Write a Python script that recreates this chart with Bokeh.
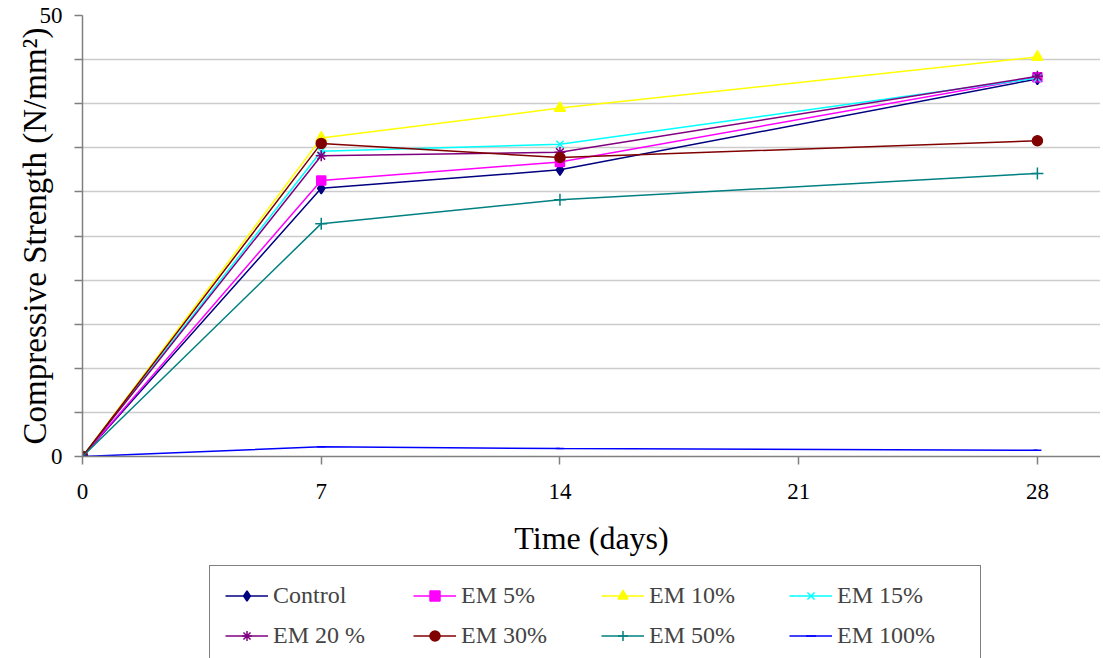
from bokeh.plotting import figure
from bokeh.models import Range1d, FixedTicker, Legend, LegendItem
from bokeh.layouts import column
from bokeh.embed import file_html
from bokeh.resources import INLINE

days = [0, 7, 14, 28]
control = [0, 30.4, 32.5, 42.8]
em5 = [0, 31.3, 33.4, 43.0]
em10 = [0, 36.1, 39.5, 45.3]
em15 = [0, 34.6, 35.4, 42.9]
em20 = [0, 34.1, 34.5, 43.1]
em30 = [0, 35.5, 33.9, 35.8]
em50 = [0, 26.4, 29.1, 32.1]
em100 = [0, 1.1, 0.9, 0.7]

series_names = ["Control", "EM 5%", "EM 10%", "EM 15%",
                "EM 20 %", "EM 30%", "EM 50%", "EM 100%"]
series_values = [control, em5, em10, em15, em20, em30, em50, em100]
series_colors = ["#000080", "#FF00FF", "#FFFF00", "#00FFFF",
                 "#800080", "#800000", "#008080", "#0000FF"]
series_markers = ["diamond", "square", "triangle", "x",
                  "asterisk", "circle", "cross", "dash"]
marker_sizes = [11, 9, 11, 10, 11, 10, 12, 8]

x_ticks = [0, 7, 14, 21, 28]
y_ticks = [0, 5, 10, 15, 20, 25, 30, 35, 40, 45, 50]
y_labels = {0: "0", 50: "50"}

FONT = "Liberation Serif"

p = figure(width=1100, height=565, output_backend="svg", toolbar_location=None,
           x_range=Range1d(0, 29.85), y_range=Range1d(0, 50),
           min_border_left=82, min_border_right=0, min_border_top=15,
           min_border_bottom=109)
p.outline_line_color = None
p.background_fill_color = "white"
p.border_fill_color = "white"

p.xgrid.grid_line_color = None
p.ygrid.grid_line_color = "#cccccc"
p.ygrid.grid_line_width = 1.5
p.ygrid.ticker = FixedTicker(ticks=y_ticks)

p.xaxis.ticker = FixedTicker(ticks=x_ticks)
p.yaxis.ticker = FixedTicker(ticks=y_ticks)
p.yaxis.major_label_overrides = {t: y_labels.get(t, "") for t in y_ticks}

for ax in (p.xaxis[0], p.yaxis[0]):
    ax.axis_line_color = "#808080"
    ax.axis_line_width = 1.5
    ax.major_tick_line_color = "#808080"
    ax.major_tick_line_width = 1.5
    ax.major_tick_out = 8
    ax.major_tick_in = 0
    ax.minor_tick_line_color = None
    ax.major_label_text_font = FONT
    ax.major_label_text_font_size = "23px"
    ax.major_label_text_color = "black"
    ax.axis_label_text_font = FONT
    ax.axis_label_text_font_style = "normal"
    ax.axis_label_text_color = "black"

p.xaxis.axis_label = "Time (days)"
p.xaxis.axis_label_text_font_size = "32px"
p.xaxis.major_label_standoff = 19
p.xaxis.axis_label_standoff = 18
p.yaxis.axis_label = "Compressive Strength (N/mm²)"
p.yaxis.axis_label_text_font_size = "33px"
p.yaxis.major_label_standoff = 12
p.yaxis.axis_label_standoff = -16

for vals, col, mk, ms in zip(series_values, series_colors, series_markers, marker_sizes):
    p.line(days, vals, line_color=col, line_width=1.5)
    p.scatter(days, vals, marker=mk, size=ms, line_color=col,
              fill_color=col, line_width=1.5)

# Legend panel: a second figure whose ranges keep the series off-screen,
# so only the legend box is visible.
lf = figure(width=1100, height=93, output_backend="svg", toolbar_location=None,
            x_range=Range1d(100, 101), y_range=Range1d(100, 101),
            x_axis_type=None, y_axis_type=None,
            min_border=0, min_border_left=0, min_border_right=0,
            min_border_top=0, min_border_bottom=0)
lf.outline_line_color = None
lf.grid.grid_line_color = None
lf.background_fill_color = "white"
lf.border_fill_color = "white"

renderers = []
for name, vals, col, mk, ms in zip(series_names, series_values, series_colors,
                                   series_markers, marker_sizes):
    r1 = lf.line(days, vals, line_color=col, line_width=1.5)
    r2 = lf.scatter(days, vals, marker=mk, size=ms, line_color=col,
                    fill_color=col, line_width=1.5)
    renderers.append(LegendItem(label=name, renderers=[r1, r2]))

# legend fills column by column: reorder so rows read left to right
order = [0, 4, 1, 5, 2, 6, 3, 7]
items = [renderers[i] for i in order]

legend = Legend(items=items, ncols=4, location=(127, -7), margin=0,
                glyph_width=43, glyph_height=25, label_height=28,
                label_width=128, label_standoff=5, spacing=12, padding=15,
                label_text_font=FONT, label_text_font_size="24px",
                border_line_color="black", border_line_width=1.2,
                background_fill_color="white", background_fill_alpha=1)
lf.add_layout(legend, "center")

layout = column(p, lf, spacing=0)
open("out.html", "w").write(file_html(layout, INLINE))
